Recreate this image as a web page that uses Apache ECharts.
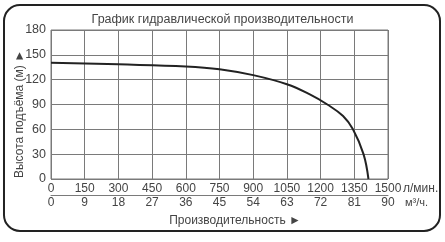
<!DOCTYPE html>
<html><head><meta charset="utf-8">
<script src="https://cdn.jsdelivr.net/npm/echarts@6/dist/echarts.min.js"></script>
<style>html,body{margin:0;padding:0;background:#fff}#c{width:445px;height:242px}</style>
</head><body><div id="c"></div>
<script>
var flowLmin = [0, 300, 600, 750, 900, 1050, 1150, 1230, 1300, 1344, 1391, 1413];
var headM    = [140.5, 138.5, 136, 132.7, 125.5, 114.5, 102.5, 90, 76, 60, 30, 0];
var xTicksLmin = [0, 150, 300, 450, 600, 750, 900, 1050, 1200, 1350, 1500];
var xTicksM3h = [0, 9, 18, 27, 36, 45, 54, 63, 72, 81, 90];
var yTicks = [0, 30, 60, 90, 120, 150, 180];
var titleText = 'График гидравлической производительности';
var yName = 'Высота подъёма (м) ►';
var xName = 'Производительность ►';
var unitLmin = 'л/мин.';
var unitM3h = 'м³/ч.';

var chart = echarts.init(document.getElementById('c'), null, {renderer:'canvas'});
var font = 'Liberation Sans, Arial, sans-serif';
var lc = '#7a7a7a';
var tc = '#444';
chart.setOption({
  animation:false,
  title:{text:titleText, left:'center', top:8, textStyle:{fontFamily:font, fontSize:12.5, fontWeight:'normal', color:tc}},
  grid:{left:51, right:57, top:30, bottom:63, show:true, borderColor:lc, borderWidth:1},
  xAxis:[{
    type:'value', min:xTicksLmin[0], max:xTicksLmin[xTicksLmin.length-1], interval:xTicksLmin[1]-xTicksLmin[0], position:'bottom',
    axisLine:{show:false}, axisTick:{show:false},
    splitLine:{show:true, lineStyle:{color:lc, width:1}},
    axisLabel:{fontFamily:font, fontSize:12, color:tc, margin:4, formatter:function(v){return String(v);}}
  },{
    type:'value', min:xTicksM3h[0], max:xTicksM3h[xTicksM3h.length-1], interval:xTicksM3h[1]-xTicksM3h[0], position:'bottom', offset:16,
    axisLine:{show:true, lineStyle:{color:lc, width:1}}, axisTick:{show:false},
    splitLine:{show:false},
    axisLabel:{fontFamily:font, fontSize:12, color:tc, margin:2, formatter:function(v){return String(v);}}
  }],
  yAxis:{
    type:'value', min:yTicks[0], max:yTicks[yTicks.length-1], interval:yTicks[1]-yTicks[0],
    axisLine:{show:false}, axisTick:{show:false},
    splitLine:{show:true, lineStyle:{color:lc, width:1}},
    axisLabel:{fontFamily:font, fontSize:12.5, color:tc, margin:5}
  },
  series:[{
    type:'line', smooth:0.4, symbol:'none', xAxisIndex:0,
    data: flowLmin.map(function(f,i){return [f, headM[i]];}),
    lineStyle:{color:'#222', width:2}
  }],
  graphic:[
    {type:'rect', shape:{x:4, y:5, width:436, height:226, r:16}, style:{fill:'none', stroke:'#222', lineWidth:2}, z:100},
    {type:'text', x:20, y:114, rotation:Math.PI/2, style:{text:yName, fontFamily:font, fontSize:12, fill:tc, align:'center', verticalAlign:'middle'}},
    {type:'text', x:235, y:221, style:{text:xName, fontFamily:font, fontSize:12, fill:tc, align:'center', verticalAlign:'middle'}},
    {type:'text', x:403, y:189, style:{text:unitLmin, fontFamily:font, fontSize:12, fill:tc, align:'left', verticalAlign:'middle'}},
    {type:'text', x:405, y:203, style:{text:unitM3h, fontFamily:font, fontSize:11, fill:tc, align:'left', verticalAlign:'middle'}}
  ]
});
</script></body></html>
